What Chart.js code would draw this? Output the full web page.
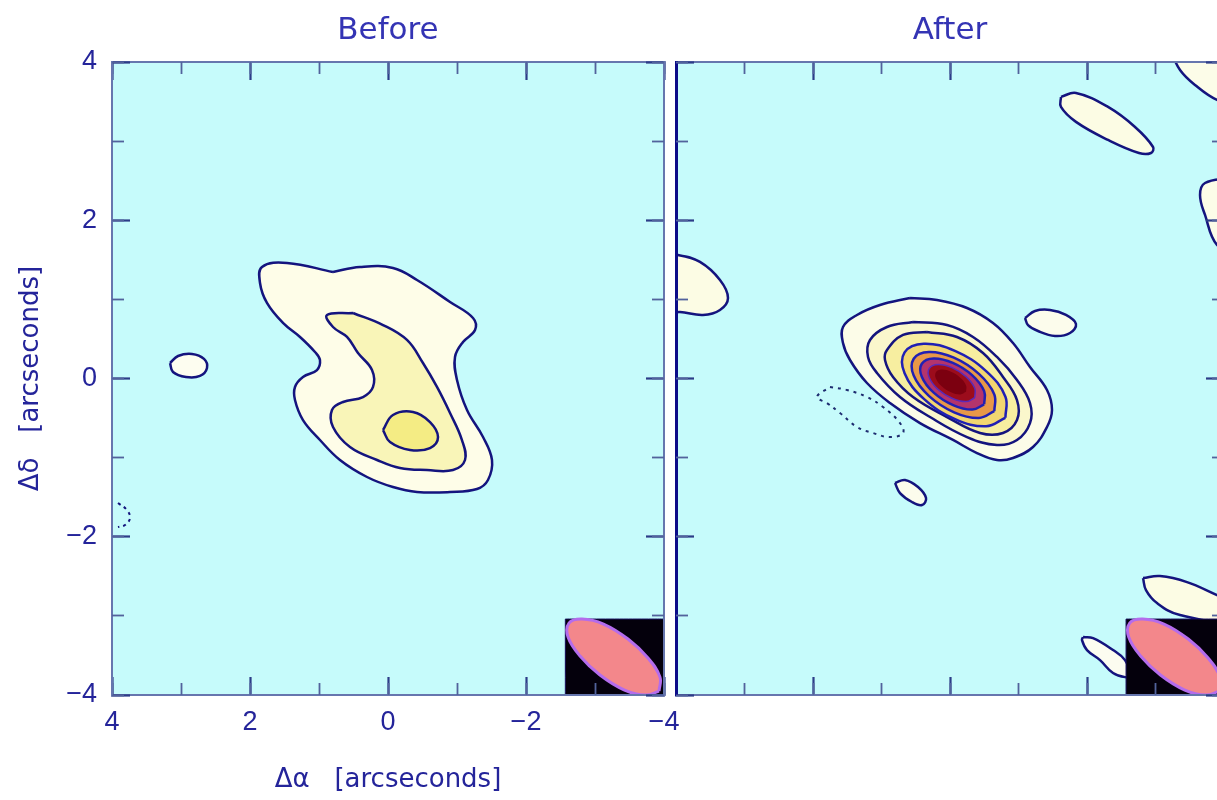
<!DOCTYPE html>
<html>
<head>
<meta charset="utf-8">
<script src="https://cdn.jsdelivr.net/npm/chart.js@4.4.1/dist/chart.umd.min.js"></script>
<style>
  html, body { margin: 0; padding: 0; background: #ffffff; overflow: hidden; width: 1217px; height: 800px; }
  #before { position: absolute; left: 0; top: 0; }
  #after { position: absolute; left: 610px; top: 0; }
</style>
</head>
<body>
<canvas id="before" width="720" height="800"></canvas>
<canvas id="after" width="690" height="800"></canvas>
<script>
// ---- axes (arcseconds) ----
const axisMin = -4;
const axisMax = 4;
const majorTicks = [4, 2, 0, -2, -4];
const majorTickLabels = ['4', '2', '0', '−2', '−4'];
const minorTicks = [4, 3, 2, 1, 0, -1, -2, -3, -4];

// ---- "Before" map: contour outlines as [Δα, Δδ] vertices ----
const beforeOuter = [[0.797,1.346],[0.406,1.410],[-0.072,1.397],[-0.420,1.245],[-0.899,0.967],[-1.232,0.765],[-1.261,0.613],[-1.087,0.461],[-0.971,0.272],[-1.000,-0.019],[-1.145,-0.398],[-1.377,-0.739],[-1.507,-1.030],[-1.449,-1.283],[-1.290,-1.397],[-0.899,-1.435],[-0.420,-1.435],[-0.072,-1.372],[0.304,-1.245],[0.696,-1.030],[0.986,-0.777],[1.232,-0.525],[1.348,-0.272],[1.348,-0.107],[1.232,0.019],[1.029,0.107],[0.986,0.234],[1.058,0.335],[1.275,0.525],[1.522,0.702],[1.754,0.955],[1.855,1.207],[1.826,1.410],[1.464,1.460]];
const beforeMid = [[0.507,0.828],[0.072,0.676],[-0.275,0.487],[-0.507,0.196],[-0.710,-0.107],[-0.899,-0.436],[-1.072,-0.778],[-1.116,-1.030],[-0.942,-1.157],[-0.565,-1.157],[-0.174,-1.131],[0.159,-1.030],[0.551,-0.866],[0.797,-0.613],[0.812,-0.398],[0.652,-0.297],[0.362,-0.234],[0.217,-0.107],[0.232,0.108],[0.435,0.322],[0.594,0.525],[0.797,0.651],[0.884,0.803]];
const beforeInner = [[0.072,-0.651],[-0.072,-0.461],[-0.362,-0.423],[-0.609,-0.550],[-0.725,-0.740],[-0.609,-0.879],[-0.319,-0.904],[-0.029,-0.803]];
const beforeSpot = [[3.159,0.196],[3.043,0.284],[2.841,0.310],[2.667,0.247],[2.623,0.133],[2.725,0.032],[2.928,0.019],[3.116,0.082]];
const beforeNegative = [[3.913,-1.574],[3.783,-1.662],[3.739,-1.763],[3.812,-1.852],[3.913,-1.877]];

// ---- "After" map ----
const afterLevel1 = [[0.584,1.018],[0.190,0.992],[-0.248,0.891],[-0.628,0.702],[-0.920,0.449],[-1.168,0.145],[-1.416,-0.145],[-1.489,-0.398],[-1.416,-0.613],[-1.212,-0.866],[-0.920,-1.005],[-0.686,-1.030],[-0.394,-0.942],[-0.044,-0.777],[0.438,-0.563],[0.876,-0.310],[1.212,-0.057],[1.460,0.234],[1.562,0.449],[1.562,0.651],[1.358,0.803],[1.022,0.929]];
const afterLevel2 = [[0.540,0.714],[0.044,0.676],[-0.336,0.525],[-0.686,0.272],[-0.978,-0.019],[-1.168,-0.310],[-1.168,-0.563],[-0.978,-0.777],[-0.686,-0.841],[-0.248,-0.740],[0.292,-0.487],[0.730,-0.234],[1.066,0.070],[1.197,0.272],[1.168,0.487],[0.920,0.651]];
const afterLevel3 = [[0.336,0.588],[-0.102,0.525],[-0.482,0.322],[-0.774,0.019],[-0.978,-0.272],[-0.978,-0.525],[-0.774,-0.689],[-0.438,-0.689],[0.044,-0.487],[0.540,-0.234],[0.832,0.019],[0.949,0.234],[0.920,0.360],[0.686,0.550]];
const afterLevel4 = [[-0.809,-0.496],[-0.528,-0.604],[-0.074,-0.513],[0.381,-0.258],[0.663,0.066],[0.663,0.331],[0.383,0.440],[-0.072,0.349],[-0.527,0.094],[-0.809,-0.230]];
const afterLevel5 = [[-0.647,-0.413],[-0.423,-0.499],[-0.060,-0.427],[0.305,-0.222],[0.530,0.037],[0.530,0.249],[0.307,0.335],[-0.057,0.263],[-0.422,0.058],[-0.647,-0.201]];
const afterLevel6 = [[-0.499,-0.326],[-0.326,-0.393],[-0.045,-0.336],[0.238,-0.178],[0.412,0.023],[0.412,0.187],[0.238,0.254],[-0.042,0.197],[-0.326,0.039],[-0.499,-0.162]];
const afterLevel7 = [[-0.361,-0.243],[-0.234,-0.292],[-0.029,-0.250],[0.175,-0.137],[0.302,0.010],[0.302,0.129],[0.175,0.178],[-0.029,0.137],[-0.234,0.023],[-0.361,-0.124]];
const afterLevel8 = [[-0.235,-0.168],[-0.152,-0.201],[-0.015,-0.173],[0.121,-0.098],[0.206,0.000],[0.206,0.080],[0.123,0.113],[-0.015,0.085],[-0.150,0.009],[-0.235,-0.088]];
const afterNegative = [[1.752,-0.107],[1.504,-0.145],[1.212,-0.234],[0.978,-0.360],[0.730,-0.563],[0.686,-0.689],[0.876,-0.740],[1.124,-0.689],[1.358,-0.613],[1.606,-0.436],[1.796,-0.310],[1.942,-0.234]];
const afterSpotEast = [[-1.095,0.765],[-1.241,0.853],[-1.460,0.866],[-1.693,0.803],[-1.839,0.689],[-1.752,0.575],[-1.533,0.537],[-1.285,0.600],[-1.139,0.676]];
const afterSpotSouth = [[0.803,-1.321],[0.657,-1.283],[0.467,-1.372],[0.350,-1.511],[0.409,-1.599],[0.555,-1.561],[0.730,-1.448]];
const afterSpotNorth = [[-1.620,3.559],[-1.839,3.609],[-2.307,3.432],[-2.701,3.179],[-2.964,2.926],[-2.934,2.850],[-2.759,2.850],[-2.307,3.015],[-1.839,3.243],[-1.620,3.432]];
const afterEdgeNE = [[-3.212,4.153],[-3.358,3.900],[-3.577,3.710],[-3.898,3.521],[-4.234,3.457],[-4.234,4.160]];
const afterEdgeE = [[-4.088,2.535],[-3.723,2.471],[-3.650,2.320],[-3.723,2.067],[-3.898,1.688],[-4.161,1.624]];
const afterEdgeW = [[4.234,1.561],[3.971,1.561],[3.650,1.473],[3.358,1.245],[3.241,1.018],[3.358,0.866],[3.606,0.803],[3.942,0.841],[4.234,0.841]];
const afterEdgeSE = [[-2.818,-2.522],[-3.066,-2.497],[-3.460,-2.573],[-3.898,-2.737],[-4.234,-2.864],[-4.234,-3.078],[-3.358,-2.990],[-3.022,-2.838],[-2.861,-2.674]];
const afterSpotSE = [[-1.942,-3.268],[-2.088,-3.281],[-2.380,-3.432],[-2.555,-3.559],[-2.628,-3.748],[-2.555,-3.774],[-2.380,-3.723],[-2.190,-3.559],[-2.000,-3.432],[-1.927,-3.306]];

// ---- synthesized beam (drawn in the lower-right corner of both maps) ----
const beamEllipse = [[-3.928,-3.951],[-3.739,-4.001],[-3.428,-3.938],[-3.072,-3.748],[-2.783,-3.508],[-2.609,-3.268],[-2.623,-3.091],[-2.812,-3.040],[-3.123,-3.103],[-3.478,-3.293],[-3.768,-3.533],[-3.942,-3.774]];
const beamBox = [[-2.57,-3.04],[-4,-3.04],[-4,-4],[-2.57,-4]];

// ---- styling ----
const PLOT_BG = '#c6fbfb';
const TEXT = '#24249a';
const LINE_DARK = '#14147e';
const LINE_BLUE = '#2020b4';

const plotBackground = {
  id: 'plotBackground',
  beforeDatasetsDraw(chart) {
    const { ctx, chartArea: a } = chart;
    ctx.save();
    ctx.fillStyle = PLOT_BG;
    ctx.fillRect(a.left, a.top, a.right - a.left, a.bottom - a.top);
    ctx.restore();
  }
};

function contour(points, o) {
  const pts = o.open ? points : points.concat([points[0]]);
  return {
    data: pts.map(([x, y]) => ({ x, y })),
    showLine: true,
    fill: o.fill ? 'shape' : false,
    backgroundColor: o.fill || 'rgba(0,0,0,0)',
    borderColor: o.line || 'rgba(0,0,0,0)',
    borderWidth: o.width !== undefined ? o.width : 2.5,
    borderDash: o.dash || [],
    tension: o.tension !== undefined ? o.tension : 0.4,
    pointRadius: 0,
    pointHoverRadius: 0,
    order: o.order,
    clip: 0
  };
}

function beamSets() {
  return [
    contour(beamEllipse, { fill: '#f3878b', line: '#b46cec', width: 3, order: 0 }),
    contour(beamBox, { fill: '#04000c', line: '#1a1060', width: 1, tension: 0.0001, order: 1 })
  ];
}

// one frame edge: long ticks at the labelled values, short ticks at every unit
function edgeAxis(position, { major, size, weight, border, labels, title }) {
  const horizontal = position === 'top' || position === 'bottom';
  const cfg = {
    type: 'linear',
    position,
    min: axisMin,
    max: axisMax,
    reverse: horizontal,
    weight,
    afterBuildTicks: s => { s.ticks = (major ? majorTicks : minorTicks).map(v => ({ value: v })); },
    afterFit: s => { if (horizontal) s.height = size; else s.width = size; },
    grid: {
      display: true,
      z: 1,
      drawOnChartArea: false,
      drawTicks: true,
      tickLength: major ? -18 : -12,
      tickColor: major ? '#2c3c88' : '#52629c',
      tickWidth: major ? 2.2 : 1.8
    },
    border: border ? { display: true, z: 1, color: border.color, width: border.width } : { display: false },
    ticks: { display: false, autoSkip: false }
  };
  if (labels) {
    cfg.ticks = {
      display: true,
      z: 1,
      autoSkip: false,
      maxRotation: 0,
      color: TEXT,
      padding: horizontal ? 29 : 33,
      font: { family: 'Liberation Sans', size: 27, lineHeight: 1.2 },
      callback: v => majorTickLabels[majorTicks.indexOf(v)]
    };
  }
  if (title) {
    cfg.title = {
      display: true,
      text: title,
      color: TEXT,
      font: { family: 'DejaVu Sans', size: 26, lineHeight: 1.2 },
      padding: horizontal ? { top: 0, bottom: 4.4 } : { top: 15.4, bottom: 0 }
    };
  }
  return cfg;
}

function baseOptions(titleText, scales) {
  return {
    responsive: false,
    animation: false,
    events: [],
    layout: { padding: 0 },
    elements: { line: { capBezierPoints: false }, point: { radius: 0, hoverRadius: 0 } },
    plugins: {
      legend: { display: false },
      tooltip: { enabled: false },
      title: {
        display: true,
        text: titleText,
        fullSize: false,
        color: '#3434b4',
        font: { family: 'DejaVu Sans', size: 31, weight: 'normal', lineHeight: 1.2 },
        padding: { top: 12, bottom: 12.8 }
      }
    },
    scales
  };
}

const frame = { color: '#6676ae', width: 2 };

// ---- Before ----
new Chart(document.getElementById('before'), {
  type: 'scatter',
  data: {
    datasets: [
      ...beamSets(),
      contour(beforeInner, { fill: '#f4ec84', line: LINE_DARK, order: 2 }),
      contour(beforeMid, { fill: '#f9f5b8', line: LINE_DARK, order: 3 }),
      contour(beforeOuter, { fill: '#fefde8', line: LINE_DARK, order: 4 }),
      contour(beforeSpot, { fill: '#fdfdf0', line: LINE_DARK, order: 4 }),
      contour(beforeNegative, { open: true, line: LINE_DARK, width: 2, dash: [3, 4], order: 4 })
    ]
  },
  options: baseOptions('Before', {
    x: edgeAxis('bottom', { major: true, size: 105, weight: 0, border: frame, labels: true, title: 'Δα   [arcseconds]' }),
    xMinor: edgeAxis('bottom', { major: false, size: 0, weight: -1 }),
    xTop: edgeAxis('top', { major: true, size: 0, weight: 0, border: frame }),
    xTopMinor: edgeAxis('top', { major: false, size: 0, weight: -1 }),
    y: edgeAxis('left', { major: true, size: 112, weight: 0, border: frame, labels: true, title: 'Δδ   [arcseconds]' }),
    yMinor: edgeAxis('left', { major: false, size: 0, weight: -1 }),
    yRight: edgeAxis('right', { major: true, size: 56, weight: 0, border: frame }),
    yRightMinor: edgeAxis('right', { major: false, size: 0, weight: -1 })
  }),
  plugins: [plotBackground]
});

// ---- After ----
new Chart(document.getElementById('after'), {
  type: 'scatter',
  data: {
    datasets: [
      ...beamSets(),
      contour(afterLevel8, { fill: '#7c0010', order: 2 }),
      contour(afterLevel7, { fill: '#9c0c1c', line: '#5a2ab8', width: 1.5, order: 3 }),
      contour(afterLevel6, { fill: '#b4346c', line: LINE_BLUE, order: 4 }),
      contour(afterLevel5, { fill: '#e89848', line: LINE_BLUE, order: 5 }),
      contour(afterLevel4, { fill: '#f2d670', line: LINE_BLUE, order: 6 }),
      contour(afterLevel3, { fill: '#f7eea0', line: LINE_DARK, order: 7 }),
      contour(afterLevel2, { fill: '#faf7cc', line: LINE_DARK, order: 8 }),
      contour(afterLevel1, { fill: '#fcfce8', line: LINE_DARK, order: 9 }),
      contour(afterNegative, { line: '#1e2c70', width: 2, dash: [3, 5], order: 10 }),
      contour(afterSpotEast, { fill: '#fcfcec', line: LINE_DARK, order: 10 }),
      contour(afterSpotSouth, { fill: '#fcfcec', line: LINE_DARK, order: 10 }),
      contour(afterSpotNorth, { fill: '#fcfce4', line: LINE_DARK, order: 10 }),
      contour(afterEdgeNE, { fill: '#fcfce8', line: LINE_DARK, order: 10 }),
      contour(afterEdgeE, { fill: '#fcfce8', line: LINE_DARK, order: 10 }),
      contour(afterEdgeW, { fill: '#fcfce4', line: LINE_DARK, order: 10 }),
      contour(afterEdgeSE, { fill: '#fcfce4', line: LINE_DARK, order: 10 }),
      contour(afterSpotSE, { fill: '#fcfcf0', line: LINE_DARK, order: 10 })
    ]
  },
  options: baseOptions('After', {
    x: edgeAxis('bottom', { major: true, size: 105, weight: 0, border: frame }),
    xMinor: edgeAxis('bottom', { major: false, size: 0, weight: -1 }),
    xTop: edgeAxis('top', { major: true, size: 0, weight: 0, border: frame }),
    xTopMinor: edgeAxis('top', { major: false, size: 0, weight: -1 }),
    y: edgeAxis('left', { major: true, size: 66, weight: 0, border: { color: '#0c0c88', width: 3 } }),
    yMinor: edgeAxis('left', { major: false, size: 0, weight: -1 }),
    yRight: edgeAxis('right', { major: true, size: 76, weight: 0, border: frame }),
    yRightMinor: edgeAxis('right', { major: false, size: 0, weight: -1 })
  }),
  plugins: [plotBackground]
});
</script>
</body>
</html>
